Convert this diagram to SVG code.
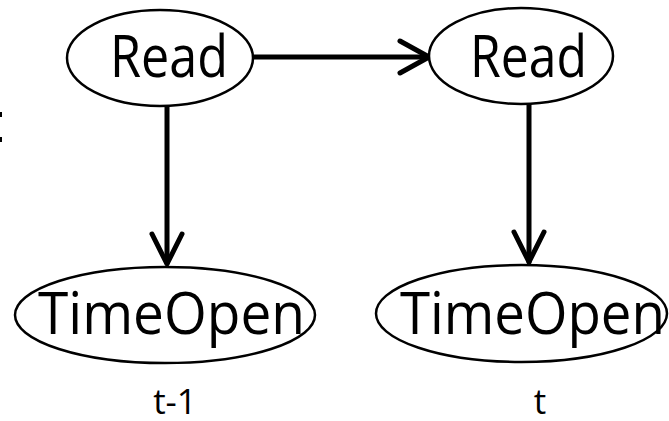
<svg xmlns="http://www.w3.org/2000/svg" width="669" height="421" viewBox="0 0 669 421">
<style>
.node ellipse{fill:#fff;stroke:#000;stroke-width:2.5}
.lbl{font-family:"Open Sans",Lato,"Liberation Sans",sans-serif;font-size:58px;fill:#000}
.sub{font-family:"Open Sans",Lato,"Liberation Sans",sans-serif;font-size:35px;fill:#000;text-anchor:middle}
.edge{stroke:#000;stroke-width:5;fill:none;stroke-linecap:round;stroke-linejoin:round}
</style>
<rect width="669" height="421" fill="#fff"/>
<g id="frag">
<rect x="0" y="112" width="2" height="5" fill="#000"/>
<rect x="0" y="137" width="2" height="5" fill="#000"/>
</g>
<g id="connectors">
<path class="edge" d="M254 57 H429"/>
<path class="edge" d="M400 41 L429 57 L400 73"/>
<path class="edge" d="M167 106 V263"/>
<path class="edge" d="M152 234 L167 264 L182 234"/>
<path class="edge" d="M529 104 V262"/>
<path class="edge" d="M514 232 L529 262 L544 232"/>
</g>
<g id="read1" class="node">
<ellipse cx="160" cy="58" rx="93" ry="48"/>
<text class="lbl" x="110" y="77" textLength="118" lengthAdjust="spacingAndGlyphs">Read</text>
</g>
<g id="read2" class="node">
<ellipse cx="521" cy="56" rx="92" ry="48"/>
<text class="lbl" x="470" y="77" textLength="117" lengthAdjust="spacingAndGlyphs">Read</text>
</g>
<g id="timeopen1" class="node">
<ellipse cx="165" cy="315" rx="150" ry="48"/>
<text class="lbl" x="38" y="334" textLength="267" lengthAdjust="spacingAndGlyphs">TimeOpen</text>
</g>
<g id="timeopen2" class="node">
<ellipse cx="521.5" cy="313.5" rx="145.5" ry="48.5"/>
<text class="lbl" x="400" y="334" textLength="265" lengthAdjust="spacingAndGlyphs">TimeOpen</text>
</g>
<g id="labels">
<text class="sub" x="175" y="414">t-1</text>
<text class="sub" x="540" y="414">t</text>
</g>
</svg>
